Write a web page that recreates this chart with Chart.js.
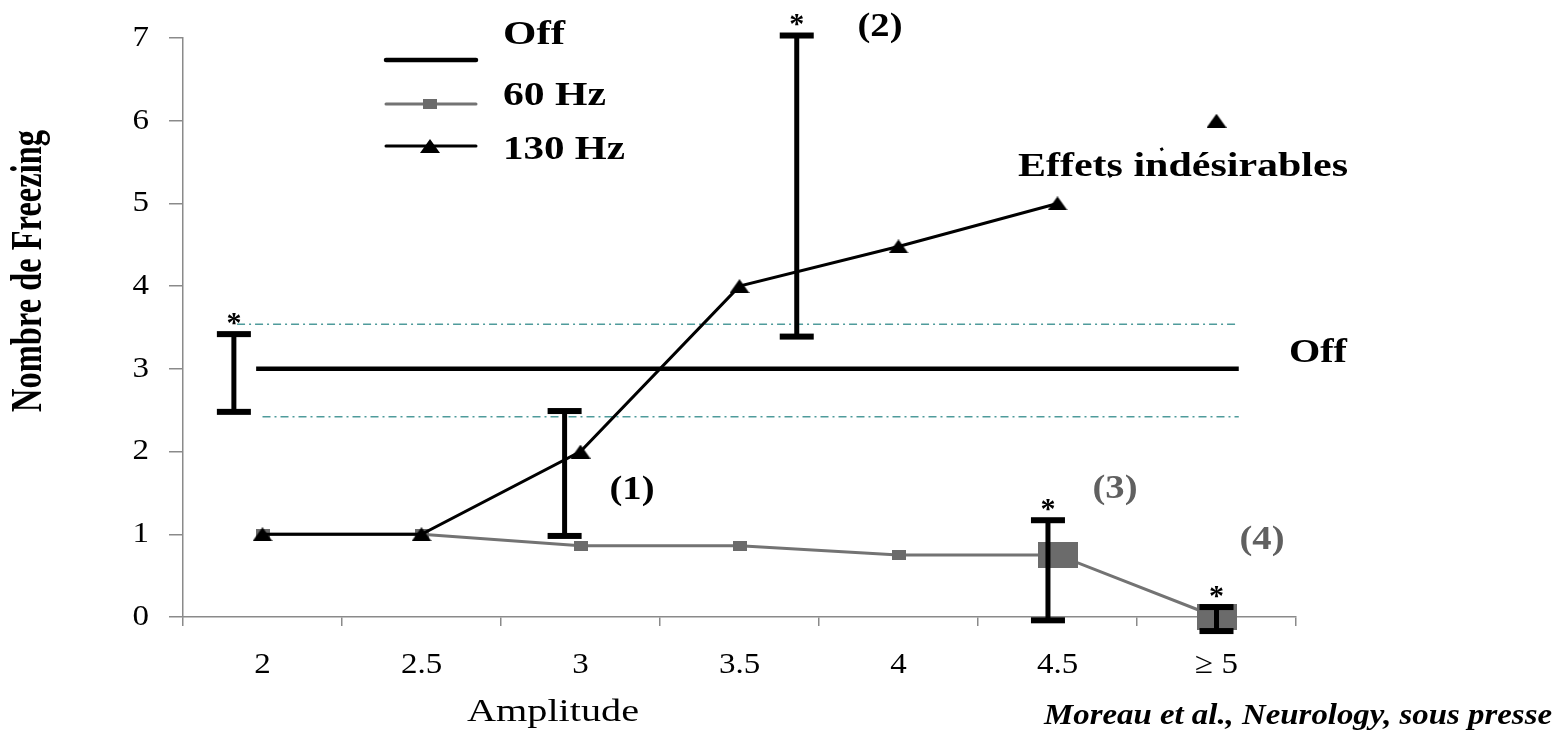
<!DOCTYPE html>
<html>
<head>
<meta charset="utf-8">
<title>Nombre de Freezing selon l'amplitude</title>
<script src="https://cdn.jsdelivr.net/npm/chart.js@4.4.0/dist/chart.umd.min.js"></script>
<style>
    html, body { margin: 0; padding: 0; background: #fff; }
    canvas { display: block; }
</style>
</head>
<body>
<canvas id="freezingChart" width="1557" height="731"></canvas>
<script>
// Values
const categories = ['2', '2.5', '3', '3.5', '4', '4.5', '\u2265 5'];
const amplitudes = [2, 2.5, 3, 3.5, 4, 4.5, 5];
const hz60 = [1, 1, 0.86, 0.86, 0.75, 0.75, 0];
const hz130 = [1, 1, 2, 4, 4.48, 5, 6];
const yTicks = [0, 1, 2, 3, 4, 5, 6, 7];

// Off condition: mean and dash-dot band
const offLevel = 3;
const offSpan = [1.98, 5.07];
const offBandLevels = [3.54, 2.42];
const offBandStarts = [1.92, 2.0];
const offBandEnd = 5.07;

// Error bars (position on amplitude axis, low, high, significant)
const errX = [1.91, 2.95, 3.68, 4.47, 5.0];
const errLow = [2.48, 0.98, 3.39, -0.04, -0.17];
const errHigh = [3.42, 2.49, 7.03, 1.17, 0.12];
const errStar = [true, false, true, true, true];

const SERIF = '"Liberation Serif", "Times New Roman", serif';
const GRAY = '#6b6b6b';
const TEAL = '#4f9b9b';
const AXIS = '#8a8a8a';

// small canvases used as point markers (the original markers are stretched)
function markerCanvas(w, h, color, shape) {
    const c = document.createElement('canvas');
    c.width = w;
    c.height = h;
    const g = c.getContext('2d');
    g.fillStyle = color;
    if (shape === 'tri') {
        g.beginPath();
        g.moveTo(w / 2, 0);
        g.lineTo(w, h);
        g.lineTo(0, h);
        g.closePath();
        g.fill();
    } else {
        g.fillRect(0, 0, w, h);
    }
    return c;
}
const smallSquare = markerCanvas(14, 10, GRAY, 'rect');
const bigSquare = markerCanvas(40, 26, GRAY, 'rect');
const triangle = markerCanvas(20, 14, '#000', 'tri');

const toPoints = (xs, ys) => ys.map((v, i) => ({ x: xs[i], y: v }));

// text helper: optional target width stretches the glyphs like the original
function drawText(ctx, text, x, y, o) {
    ctx.save();
    ctx.font = o.font;
    ctx.fillStyle = o.color || '#000';
    ctx.textAlign = o.align || 'center';
    ctx.textBaseline = 'middle';
    ctx.translate(x, y);
    if (o.rotate) ctx.rotate(o.rotate);
    const w = ctx.measureText(text).width;
    const sx = o.width ? o.width / w : (o.stretch || 1);
    ctx.scale(sx, 1);
    ctx.fillText(text, 0, 0);
    ctx.restore();
}

const notes = [
    { text: '(1)', x: 632, y: 490, width: 45, color: '#000' },
    { text: '(2)', x: 880, y: 27, width: 45, color: '#000' },
    { text: '(3)', x: 1115, y: 489, width: 45, color: '#606060' },
    { text: '(4)', x: 1262, y: 540, width: 45, color: '#606060' },
    { text: 'Effets ind\u00e9sirables', x: 1183, y: 167, width: 330, color: '#000' },
    { text: 'Off', x: 1318, y: 353, width: 58, color: '#000' }
];

const legendRows = [
    { label: 'Off', lineY: 60, textY: 35, width: 62 },
    { label: '60 Hz', lineY: 104, textY: 96, width: 103 },
    { label: '130 Hz', lineY: 146, textY: 150, width: 122 }
];

const overlayPlugin = {
    id: 'overlay',
    afterDatasetsDraw(chart) {
        const ctx = chart.ctx;
        const xs = chart.scales.x2;
        const ys = chart.scales.y;
        ctx.save();
        ctx.strokeStyle = '#000';
        ctx.fillStyle = '#000';
        ctx.lineWidth = 5;
        errX.forEach((v, i) => {
            const px = xs.getPixelForValue(v);
            const top = ys.getPixelForValue(errHigh[i]);
            const bot = ys.getPixelForValue(errLow[i]);
            ctx.beginPath();
            ctx.moveTo(px, top);
            ctx.lineTo(px, bot);
            ctx.stroke();
            ctx.fillRect(px - 17, top - 3, 34, 6);
            ctx.fillRect(px - 17, bot - 3, 34, 6);
            if (errStar[i]) {
                drawText(ctx, '*', px, top - 10, { font: 'bold 30px ' + SERIF });
            }
        });
        ctx.restore();
    },
    afterDraw(chart) {
        const ctx = chart.ctx;
        const xScale = chart.scales.x;
        const yScale = chart.scales.y;

        // tick labels
        categories.forEach((c, i) => {
            drawText(ctx, c, xScale.getPixelForValue(i), 665, { font: '30px ' + SERIF, stretch: 1.1 });
        });
        yTicks.forEach(v => {
            drawText(ctx, String(v), 149, yScale.getPixelForValue(v), { font: '30px ' + SERIF, align: 'right', stretch: 1.1 });
        });

        // axis titles and source
        drawText(ctx, 'Amplitude', 553, 713, { font: '32px ' + SERIF, width: 172 });
        drawText(ctx, 'Nombre de Freezing', 30, 271, { font: 'bold 44px ' + SERIF, width: 282, rotate: -Math.PI / 2 });
        drawText(ctx, 'Moreau et al., Neurology, sous presse', 1552, 716, { font: 'italic bold 30px ' + SERIF, width: 508, align: 'right' });

        notes.forEach(n => {
            drawText(ctx, n.text, n.x, n.y, { font: 'bold 33px ' + SERIF, width: n.width, color: n.color });
        });

        // legend
        legendRows.forEach(row => {
            const ds = chart.data.datasets.find(d => d.label === row.label);
            ctx.save();
            ctx.strokeStyle = ds.borderColor;
            ctx.lineWidth = ds.borderWidth;
            ctx.lineCap = 'round';
            ctx.beginPath();
            ctx.moveTo(386, row.lineY);
            ctx.lineTo(476, row.lineY);
            ctx.stroke();
            ctx.restore();
            if (ds.legendMarker) {
                const m = ds.legendMarker;
                ctx.drawImage(m, 430 - m.width / 2, row.lineY - m.height / 2);
            }
            drawText(ctx, row.label, 503, row.textY, { font: 'bold 33px ' + SERIF, width: row.width, align: 'left' });
        });
    }
};

const common = { xAxisID: 'x2', clip: false, tension: 0, fill: false };

new Chart(document.getElementById('freezingChart'), {
    type: 'line',
    data: {
        labels: categories,
        datasets: [
            {
                ...common,
                label: '130 Hz',
                data: toPoints(amplitudes, hz130),
                borderColor: '#000',
                borderWidth: 3,
                pointStyle: triangle,
                pointRadius: 7,
                legendMarker: triangle,
                segment: {
                    borderDash: c => (c.p1DataIndex === hz130.length - 1 ? [3, 55] : undefined)
                },
                order: 0
            },
            {
                ...common,
                label: '60 Hz',
                data: toPoints(amplitudes, hz60),
                borderColor: '#737373',
                borderWidth: 3,
                pointStyle: c => (c.dataIndex >= 5 ? bigSquare : smallSquare),
                pointRadius: 7,
                legendMarker: smallSquare,
                order: 1
            },
            {
                ...common,
                label: 'Off',
                data: offSpan.map(x => ({ x: x, y: offLevel })),
                borderColor: '#000',
                borderWidth: 4.5,
                pointRadius: 0,
                order: 2
            },
            ...offBandLevels.map((lvl, i) => ({
                ...common,
                label: 'Off band ' + (i + 1),
                data: [{ x: offBandStarts[i], y: lvl }, { x: offBandEnd, y: lvl }],
                borderColor: TEAL,
                borderWidth: 1.5,
                borderDash: [8, 4, 2, 4],
                pointRadius: 0,
                order: 3
            }))
        ]
    },
    options: {
        responsive: false,
        animation: false,
        events: [],
        layout: { padding: { left: 0, top: 38, right: 261, bottom: 0 } },
        plugins: {
            legend: { display: false },
            tooltip: { enabled: false }
        },
        scales: {
            x: {
                type: 'category',
                labels: categories,
                offset: true,
                position: 'bottom',
                afterFit: s => { s.height = 114; },
                grid: {
                    offset: true,
                    drawOnChartArea: false,
                    tickLength: 9,
                    color: AXIS,
                    lineWidth: 1.5
                },
                border: { color: AXIS, width: 1.5 },
                ticks: { display: false }
            },
            x2: {
                type: 'linear',
                display: false,
                min: 1.75,
                max: 5.25
            },
            y: {
                type: 'linear',
                min: 0,
                max: 7,
                afterFit: s => { s.width = 183; },
                afterBuildTicks: s => { s.ticks = yTicks.map(v => ({ value: v })); },
                grid: {
                    drawOnChartArea: false,
                    tickLength: 14,
                    color: AXIS,
                    lineWidth: 1.5
                },
                border: { color: AXIS, width: 1.5 },
                ticks: { display: false }
            }
        }
    },
    plugins: [overlayPlugin]
});
</script>
</body>
</html>
